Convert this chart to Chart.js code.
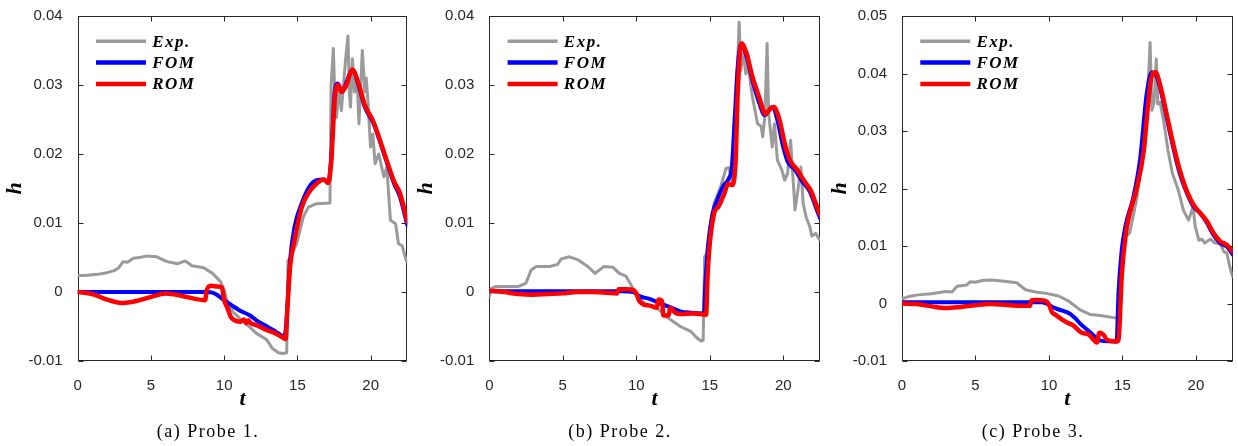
<!DOCTYPE html>
<html>
<head>
<meta charset="utf-8">
<title>Probes</title>
<script src="https://cdn.jsdelivr.net/npm/chart.js"></script>
<style>
body{
  margin:0;
  width:1238px;
  height:446px;
  background:#fff;
  position:relative;
  overflow:hidden;
}
canvas{position:absolute;top:0;}
.cap{
  position:absolute;
  top:421px;
  font-family:"Liberation Serif",serif;
  font-size:18px;
  letter-spacing:1.5px;
  color:#000;
  transform:translateX(-50%);
  white-space:nowrap;
}
</style>
</head>
<body>

<canvas id="c1" width="410" height="446" style="left:0px"></canvas>
<canvas id="c2" width="412" height="446" style="left:410px"></canvas>
<canvas id="c3" width="416" height="446" style="left:822px"></canvas>

<div class="cap" style="left:208px">(a) Probe 1.</div>
<div class="cap" style="left:620px">(b) Probe 2.</div>
<div class="cap" style="left:1033px">(c) Probe 3.</div>

<script>

// ================= TICKS =================
const xTicks = [0, 5, 10, 15, 20];
const yTicks12 = [-0.01, 0, 0.01, 0.02, 0.03, 0.04];
const yTicks3 = [-0.01, 0, 0.01, 0.02, 0.03, 0.04, 0.05];

// ================= PROBE 1 =================
const p1ExpT = [0,0.5,1,1.5,2,2.5,2.8,3.1,3.4,3.8,4.2,4.7,5.4,6.1,6.8,7.35,7.8,8.6,9.2,9.75,10,10.2,10.6,11.3,11.8,12.2,12.9,13.3,13.7,14,14.27,14.35,14.5,14.95,15.4,15.75,16.3,17.22,17.3,17.45,17.55,17.67,17.82,18,18.3,18.45,18.55,18.62,18.75,18.9,19.07,19.2,19.43,19.6,19.7,19.82,19.99,20.15,20.3,20.55,20.9,21.1,21.35,21.7,21.9,22.15,22.45];
const p1ExpH = [0.0024,0.0024,0.0025,0.0026,0.0028,0.0031,0.0035,0.0044,0.0043,0.0049,0.005,0.0052,0.0051,0.0044,0.0041,0.0045,0.0038,0.0035,0.0027,0.0015,0.0003,-0.0014,-0.0029,-0.0043,-0.0052,-0.006,-0.0069,-0.0082,-0.0088,-0.0089,-0.0088,0.0045,0.005,0.007,0.0109,0.0123,0.0128,0.0129,0.03,0.0353,0.0287,0.0253,0.0297,0.0263,0.034,0.0371,0.0288,0.0268,0.0338,0.029,0.031,0.0244,0.035,0.029,0.031,0.0274,0.021,0.0229,0.0186,0.02,0.0167,0.0181,0.0104,0.0099,0.007,0.0067,0.0044];
const p1FomT = [0,8.8,9.2,9.5,10,10.5,11,11.76,12.2,13,13.5,13.9,14.05,14.2,14.3,14.5,14.8,15.3,15.8,16.3,16.8,17.1,17.3,17.55,17.75,18.05,18.4,18.75,19.2,19.6,20.2,20.9,21.6,22,22.5];
const p1FomH = [0,0,-0.0001,-0.0004,-0.0012,-0.0019,-0.0026,-0.0034,-0.0041,-0.0051,-0.0057,-0.0063,-0.0065,-0.0055,-0.0026,0.0046,0.0094,0.0129,0.0152,0.0162,0.0163,0.016,0.0192,0.0292,0.0302,0.029,0.0307,0.0322,0.0297,0.0268,0.0244,0.0201,0.0157,0.0138,0.0097];
const p1RomT = [0,1,2,3,4,5,6,7,8,8.7,8.8,9.1,9.55,9.85,10,10.2,10.45,10.7,11.1,11.35,11.5,11.65,11.8,12.2,12.9,13.5,14,14.2,14.3,14.5,14.8,15.3,15.8,16.3,16.8,17.1,17.3,17.6,17.8,18,18.3,18.75,19.2,19.6,20.2,20.9,21.6,22,22.5];
const p1RomH = [0,-0.0003,-0.0011,-0.0016,-0.0013,-0.0007,-0.0002,-0.0005,-0.001,-0.0012,0.0002,0.0009,0.0008,0.0006,-0.0012,-0.0022,-0.0036,-0.0041,-0.0043,-0.004,-0.0045,-0.0041,-0.0045,-0.0048,-0.0055,-0.006,-0.0066,-0.0068,-0.003,0.0037,0.0075,0.0123,0.0145,0.0157,0.0163,0.0158,0.0187,0.0292,0.03,0.029,0.0298,0.0322,0.03,0.0271,0.0246,0.0203,0.016,0.0143,0.0102];

// ================= PROBE 2 =================
const p2ExpT = [0,0.1,0.45,2,2.5,2.85,3.2,4.1,4.65,4.9,5.45,6,6.7,7.2,7.5,7.8,8.4,8.85,9.3,9.65,9.85,10.2,10.65,11.3,12,13,13.7,14.1,14.4,14.55,14.65,14.8,15.05,15.3,15.75,16.1,16.3,16.5,16.75,17,17.1,17.3,17.45,17.6,17.9,18.25,18.5,18.6,18.75,18.9,19,19.25,19.4,19.6,19.9,20.1,20.3,20.5,20.7,20.8,21,21.2,21.35,21.55,21.8,21.95,22.2,22.45];
const p2ExpH = [-0.0006,0.0005,0.0008,0.0008,0.0013,0.0032,0.0037,0.0037,0.004,0.0048,0.0051,0.0047,0.0037,0.0027,0.0032,0.0037,0.0036,0.0027,0.0023,0.001,0.0001,-0.0009,-0.0018,-0.0021,-0.0035,-0.005,-0.0057,-0.0066,-0.0071,-0.007,0.0051,0.0056,0.01,0.0129,0.0153,0.0179,0.018,0.016,0.025,0.0391,0.0321,0.0345,0.0316,0.033,0.0283,0.0244,0.024,0.0225,0.0254,0.036,0.026,0.021,0.0244,0.0191,0.0177,0.0162,0.0172,0.022,0.0153,0.0119,0.0148,0.0181,0.0129,0.0109,0.0095,0.0081,0.0085,0.0076];
const p2FomT = [0,9,9.8,10.2,10.9,11.8,12.3,13,13.7,14.6,14.7,14.9,15.2,15.5,15.9,16.3,16.5,16.7,16.9,17.15,17.5,17.9,18.3,18.75,19,19.3,19.6,20,20.3,20.8,21.3,21.8,22.2,22.5];
const p2FomH = [0.0001,0.0001,0,-0.0006,-0.001,-0.0018,-0.0022,-0.0028,-0.003,-0.0031,0.0013,0.007,0.0114,0.0133,0.0153,0.0165,0.018,0.0253,0.0326,0.036,0.0341,0.0307,0.0278,0.0256,0.0263,0.0268,0.0249,0.021,0.0189,0.0177,0.016,0.0146,0.0124,0.0107];
const p2RomT = [0,1,2,3,4,5,6,7,8,8.7,8.8,9.3,9.8,10,10.2,10.5,11,11.4,11.5,11.75,11.85,12.2,12.3,12.65,13,13.9,14.75,14.85,15,15.3,15.6,16,16.25,16.5,16.75,16.9,17.15,17.5,17.9,18.35,18.8,19.1,19.35,19.75,20.1,20.45,20.95,21.45,21.9,22.2,22.5];
const p2RomH = [0.0002,0,-0.0003,-0.0004,-0.0003,-0.0002,0,0,-0.0001,-0.0002,0.0004,0.0004,0.0003,-0.0002,-0.0013,-0.0018,-0.002,-0.0023,-0.0011,-0.0013,-0.0034,-0.0034,-0.0023,-0.003,-0.0032,-0.0031,-0.0033,0.0023,0.007,0.0114,0.0124,0.0143,0.0157,0.0155,0.0186,0.0288,0.036,0.0346,0.0312,0.0283,0.0258,0.0265,0.0268,0.0249,0.0215,0.0191,0.0177,0.016,0.0146,0.0129,0.0112];

// ================= PROBE 3 =================
const p3ExpT = [0,0.45,1.1,2,2.95,3.4,3.75,4.4,4.65,5,5.45,6.1,6.8,7.8,8.4,9.1,9.75,10.65,11.35,12.12,12.8,13.48,14.5,14.7,15,15.2,15.5,16,16.3,16.6,16.77,16.88,17,17.15,17.3,17.4,17.56,17.8,18.1,18.4,18.8,19.15,19.5,19.8,19.95,20.2,20.4,20.6,20.97,21.3,21.65,21.9,22.1,22.3,22.5];
const p3ExpH = [0.0008,0.0012,0.0015,0.0017,0.0021,0.002,0.003,0.0032,0.0038,0.0037,0.004,0.0041,0.0039,0.0036,0.0024,0.002,0.0018,0.0013,0.0004,-0.0011,-0.0019,-0.0021,-0.0025,-0.0025,0.009,0.0116,0.0123,0.0186,0.0249,0.0307,0.0393,0.0454,0.0336,0.035,0.0425,0.0347,0.035,0.0318,0.0266,0.0226,0.0197,0.0162,0.0145,0.0168,0.0134,0.011,0.0112,0.0105,0.0112,0.0105,0.0104,0.009,0.0088,0.0064,0.0047];
const p3FomT = [0,9.5,9.8,10.4,11.1,11.44,11.8,12.12,12.8,13.26,13.6,14.6,14.73,14.95,15.2,15.75,16.2,16.65,17,17.25,17.6,18.05,18.5,18.9,19.4,19.85,20.3,20.75,21.2,21.65,22.1,22.5];
const p3FomH = [0.0002,0.0002,0,-0.0008,-0.0014,-0.0018,-0.0026,-0.0035,-0.005,-0.0061,-0.0065,-0.0066,0.0018,0.0093,0.0134,0.0186,0.0251,0.0365,0.0402,0.0399,0.0371,0.0318,0.0266,0.0226,0.0191,0.0168,0.0157,0.014,0.0119,0.0105,0.0099,0.0085];
const p3RomT = [0,1,2,3,4,5,6,7,8,8.7,8.8,9.1,9.7,10,10.2,10.4,10.9,11.3,11.6,11.9,12.23,12.7,13.03,13.26,13.43,13.7,13.95,14.6,14.73,14.95,15.2,15.5,16,16.45,16.77,17,17.25,17.6,18.05,18.5,18.9,19.4,19.85,20.3,20.75,21.2,21.65,22.1,22.5];
const p3RomH = [0,-0.0001,-0.0005,-0.0008,-0.0006,-0.0003,-0.0001,-0.0002,-0.0004,-0.0004,0.0005,0.0006,0.0005,-0.0002,-0.0015,-0.0019,-0.0028,-0.0034,-0.0037,-0.0044,-0.0051,-0.0054,-0.0063,-0.0068,-0.0051,-0.0054,-0.0063,-0.0066,-0.0063,0.0047,0.0116,0.0157,0.0203,0.0266,0.0353,0.0396,0.0402,0.0376,0.0324,0.0272,0.0232,0.0194,0.0171,0.0157,0.0143,0.0122,0.0108,0.0102,0.009];

// ================= HELPERS =================
function pts(t, h){
  return t.map((v, i) => ({x: v, y: h[i]}));
}

// box round the axes + inward ticks on all four sides
const boxPlugin = {
  id: 'box',
  beforeDatasetsDraw(chart){
    const {ctx, chartArea: a, scales} = chart;
    const L = Math.round(a.left) + 0.5, R = Math.round(a.right) - 0.5;
    const T = Math.round(a.top) + 0.5, B = Math.round(a.bottom) - 0.5;
    ctx.save();
    ctx.strokeStyle = '#262626';
    ctx.lineWidth = 1;
    ctx.strokeRect(L, T, R - L, B - T);
    ctx.beginPath();
    scales.x.ticks.forEach(tk => {
      const px = Math.round(scales.x.getPixelForValue(tk.value)) + 0.5;
      ctx.moveTo(px, B); ctx.lineTo(px, B - 5);
      ctx.moveTo(px, T); ctx.lineTo(px, T + 5);
    });
    scales.y.ticks.forEach(tk => {
      const py = Math.round(scales.y.getPixelForValue(tk.value)) + 0.5;
      ctx.moveTo(L, py); ctx.lineTo(L + 5, py);
      ctx.moveTo(R, py); ctx.lineTo(R - 5, py);
    });
    ctx.stroke();
    ctx.restore();
  }
};

// legend drawn inside the axes, top left
const inLegend = {
  id: 'inLegend',
  afterDatasetsDraw(chart){
    const {ctx, chartArea: a} = chart;
    ctx.save();
    ctx.font = 'italic bold 17px "Liberation Serif"';
    ctx.letterSpacing = '1.5px';
    ctx.textBaseline = 'middle';
    chart.data.datasets.forEach((d, i) => {
      const y = a.top + 25.3 + i * 21.3;
      ctx.strokeStyle = d.borderColor;
      ctx.lineWidth = d.legendWidth;
      ctx.beginPath();
      ctx.moveTo(a.left + 18.3, y);
      ctx.lineTo(a.left + 68.3, y);
      ctx.stroke();
      ctx.fillStyle = '#000';
      ctx.fillText(d.label, a.left + 74.5, y + 1);
    });
    ctx.restore();
  }
};

// ================= CHART =================
function makeChart(id, yTicks, yMax, axisW, padR, hPad, exp, fom, rom){
  return new Chart(document.getElementById(id), {
    type: 'line',
    data: {
      datasets: [
        {label: 'Exp.', data: exp, borderColor: '#9a9a9a', borderWidth: 3, legendWidth: 3.5, order: 3, tension: 0},
        {label: 'FOM', data: fom, borderColor: '#0000ff', borderWidth: 4, legendWidth: 4.5, order: 2, cubicInterpolationMode: 'monotone'},
        {label: 'ROM', data: rom, borderColor: '#ff0000', borderWidth: 4.5, legendWidth: 4.5, order: 1, cubicInterpolationMode: 'monotone'}
      ]
    },
    options: {
      responsive: false,
      animation: false,
      devicePixelRatio: 1,
      layout: {padding: {top: 14.7, right: padR, bottom: 0, left: 0}},
      elements: {
        point: {radius: 0},
        line: {borderJoinStyle: 'round', borderCapStyle: 'round'}
      },
      plugins: {legend: {display: false}, tooltip: {enabled: false}},
      scales: {
        x: {
          type: 'linear',
          min: 0,
          max: 22.5,
          afterBuildTicks: s => { s.ticks = xTicks.map(v => ({value: v})); },
          afterFit: s => { s.height = 85; },
          grid: {display: false},
          border: {display: false},
          ticks: {
            font: {family: 'Liberation Sans', size: 15},
            color: '#262626',
            padding: 8,
            maxRotation: 0,
            autoSkip: false,
            callback: v => String(v)
          },
          title: {
            display: true,
            text: 't',
            color: '#000',
            font: {family: 'Liberation Serif', size: 22, style: 'italic', weight: 'bold'},
            padding: {top: 0, bottom: 33}
          }
        },
        y: {
          type: 'linear',
          min: -0.01,
          max: yMax,
          afterBuildTicks: s => { s.ticks = yTicks.map(v => ({value: v})); },
          afterFit: s => { s.width = axisW; },
          grid: {display: false},
          border: {display: false},
          ticks: {
            font: {family: 'Liberation Sans', size: 15},
            color: '#262626',
            padding: 7,
            autoSkip: false,
            callback: v => String(Math.round(v * 100) / 100)
          },
          title: {
            display: true,
            text: 'h',
            color: '#000',
            font: {family: 'Liberation Serif', size: 22, style: 'italic', weight: 'bold'},
            padding: {top: hPad, bottom: 0}
          }
        }
      }
    },
    plugins: [boxPlugin, inLegend]
  });
}

makeChart('c1', yTicks12, 0.04, 77.7, 2.7, 2,
  pts(p1ExpT, p1ExpH), pts(p1FomT, p1FomH), pts(p1RomT, p1RomH));
makeChart('c2', yTicks12, 0.04, 79.3, 2, 3,
  pts(p2ExpT, p2ExpH), pts(p2FomT, p2FomH), pts(p2RomT, p2RomH));
makeChart('c3', yTicks3, 0.05, 80, 5.3, 5,
  pts(p3ExpT, p3ExpH), pts(p3FomT, p3FomH), pts(p3RomT, p3RomH));

</script>

</body>
</html>
